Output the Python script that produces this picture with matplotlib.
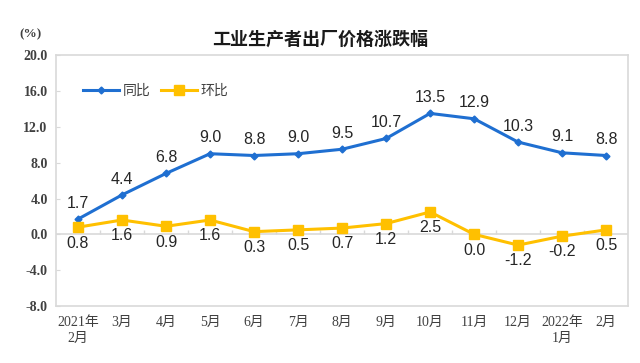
import numpy as np
import matplotlib
matplotlib.use('Agg')
from matplotlib import pyplot as plt

months = ['2021年\n2月', '3月', '4月', '5月', '6月', '7月', '8月', '9月',
          '10月', '11月', '12月', '2022年\n1月', '2月']
yoy = [1.7, 4.4, 6.8, 9.0, 8.8, 9.0, 9.5, 10.7, 13.5, 12.9, 10.3, 9.1, 8.8]
mom = [0.8, 1.6, 0.9, 1.6, 0.3, 0.5, 0.7, 1.2, 2.5, 0.0, -1.2, -0.2, 0.5]
yticks = [-8.0, -4.0, 0.0, 4.0, 8.0, 12.0, 16.0, 20.0]

blue = '#1F6FD1'
yellow = '#FFC000'
gray = '#D9D9D9'
tickfont = ['Liberation Serif', 'Noto Sans CJK SC']
cjk = ['Noto Sans CJK SC', 'DejaVu Sans']

fig = plt.figure(figsize=(6.4, 3.63), dpi=100)
ax = fig.add_axes([0.0875, 0.157, 0.894, 0.691])

x = np.arange(len(months))
ax.plot(x, yoy, color=blue, lw=2.2, marker='D', ms=3.5, label='同比')
ax.plot(x, mom, color=yellow, lw=2.2, marker='s', ms=7, label='环比')

for xi, v in zip(x, yoy):
    ax.annotate(f'{v:.1f}', (xi, v), xytext=(0, 6), textcoords='offset points',
                ha='center', va='bottom', fontsize=11.5, family='Liberation Sans',
                color='#262626')
for xi, v in zip(x, mom):
    ax.annotate(f'{v:.1f}', (xi, v), xytext=(0, -6), textcoords='offset points',
                ha='center', va='top', fontsize=11.5, family='Liberation Sans',
                color='#262626')

ax.set_xlim(-0.5, len(months) - 0.5)
ax.set_ylim(-8, 20)
ax.set_yticks(yticks)
ax.set_yticklabels([f'{t:.1f}' for t in yticks], family=tickfont, fontsize=10,
                   color='#404040', fontweight='bold')
ax.set_xticks(x)
ax.set_xticklabels(months, family=tickfont, fontsize=10, color='#404040',
                   linespacing=1.3)
ax.tick_params(axis='x', length=0, pad=7)
ax.tick_params(axis='y', length=3, direction='in', color=gray, pad=6)

for s in ax.spines.values():
    s.set_color(gray)
    s.set_linewidth(1.2)

# zero line with category boundary ticks
ax.axhline(0, color=gray, lw=1.2, zorder=1)
ax.vlines(np.arange(0.5, len(months) - 1, 1.0), 0, 0.5, color=gray, lw=1,
          zorder=1)

leg = ax.legend(loc='upper left', bbox_to_anchor=(0.025, 0.935), ncol=2,
                frameon=False, prop={'family': cjk, 'size': 10},
                handlelength=2.6, columnspacing=0.7, handletextpad=0.3)
for t in leg.get_texts():
    t.set_color('#404040')

fig.text(0.5, 0.865, '工业生产者出厂价格涨跌幅', ha='center', va='bottom',
         fontsize=13, family=cjk, fontweight='bold', color='#1a1a1a')
fig.text(0.047, 0.89, '(%)', ha='center', va='bottom', fontsize=9.5,
         family=tickfont, color='#404040', fontweight='bold')

plt.savefig('out.png', dpi=100)
